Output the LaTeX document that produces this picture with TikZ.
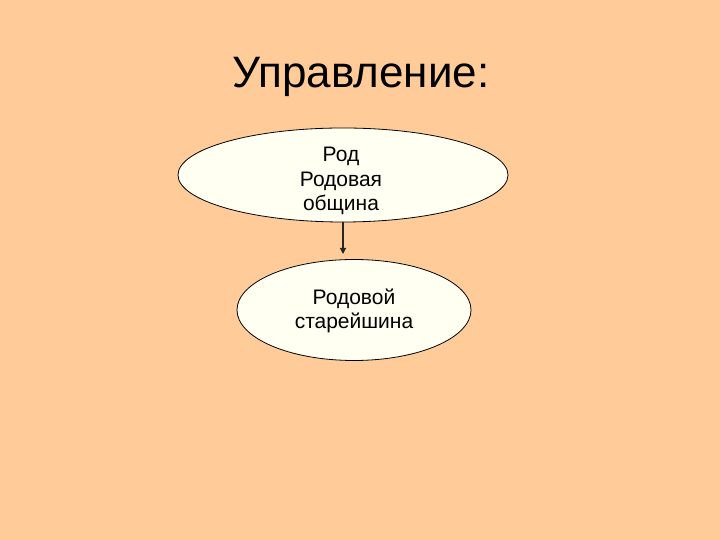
\documentclass[tikz,border=0pt]{standalone}
\usepackage{fontspec}
\setmainfont{Liberation Sans}
\usetikzlibrary{shapes.geometric,arrows.meta}
\definecolor{bgpeach}{RGB}{255,204,153}
\definecolor{ellfill}{RGB}{255,255,242}
\tikzset{
  oval/.style={ellipse, draw=black, line width=0.8pt, fill=ellfill, inner sep=0pt},
  ovaltext/.style={align=center, font=\fontsize{21}{24.5}\selectfont, inner sep=0pt},
  conn/.style={draw=black!85, line width=1.1pt, -{Triangle[length=6pt,width=6pt]}}
}
\begin{document}
\begin{tikzpicture}[x=1pt,y=1pt]
  \fill[bgpeach] (0,0) rectangle (720,540);
  \useasboundingbox (0,0) rectangle (720,540);
  \node[anchor=base, inner sep=0pt, font=\fontsize{44}{52}\selectfont] (title) at (361,452) {Управление:};
  \node[oval, minimum width=330pt, minimum height=94pt] (e1) at (343,365) {};
  \node[oval, minimum width=234pt, minimum height=101pt] (e2) at (354,230) {};
  \node[ovaltext] (t1) at (341,359) {Род\\Родовая\\община};
  \node[ovaltext] (t2) at (354,229) {Родовой\\старейшина};
  \coordinate (a2) at (343,286);
  \draw[conn] (e1.south) -- (a2);
\end{tikzpicture}
\end{document}
